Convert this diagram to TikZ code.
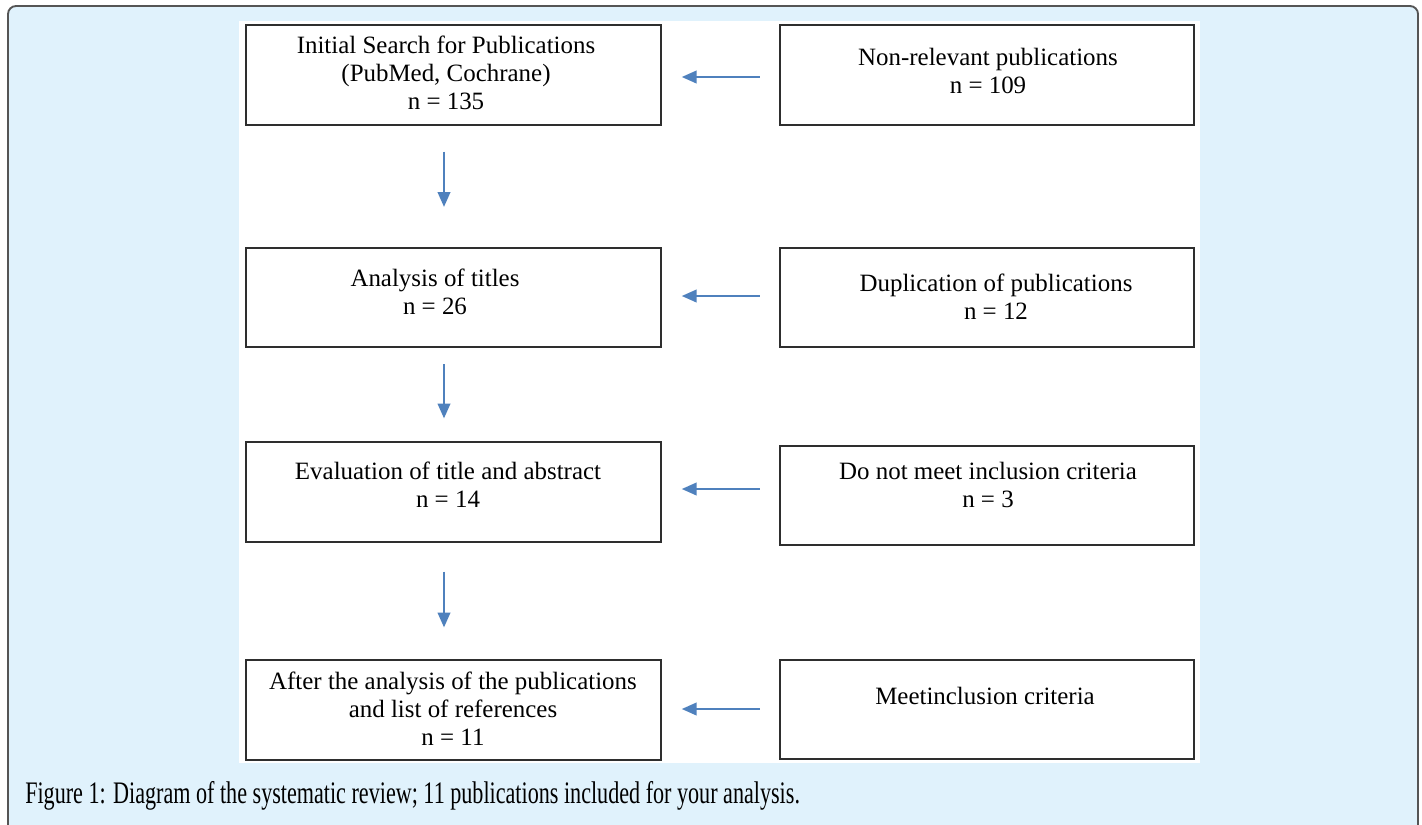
\documentclass[tikz,border=0pt]{standalone}
\usepackage{fontspec}
\setmainfont{Liberation Serif}
\newfontfamily\capfont{Liberation Serif}
\usetikzlibrary{arrows.meta,calc}
\definecolor{panel}{HTML}{E0F2FC}
\definecolor{arrowblue}{HTML}{4F81BD}
\definecolor{frameedge}{HTML}{555555}
\definecolor{boxedge}{HTML}{2E2E2E}
\tikzset{
  flowbox/.style={draw=boxedge, line width=1.4pt, fill=white, inner sep=0pt, outer sep=0pt,
    minimum width=311pt, minimum height=74.5pt},
  boxtext/.style={align=center, inner sep=0pt, font=\fontsize{18.7pt}{21pt}\selectfont, text=black},
  flowarrow/.style={draw=arrowblue, line width=1.1pt, -{Triangle[length=11pt,width=9.5pt]}},
}
\begin{document}
\begin{tikzpicture}[x=0.75pt,y=-0.75pt]
\useasboundingbox (0,0) rectangle (1422,825);
\begin{scope}
  \clip (0,0) rectangle (1422,825);
  \draw[rounded corners=6pt, fill=panel, draw=frameedge, line width=1.4pt] (8,6) rectangle (1418,845);
\end{scope}
\fill[white] (239,21) rectangle (1200,763);

% left column
\node[flowbox] (l1) at (453.5,75) {};
\node[flowbox] (l2) at (453.5,297.5) {};
\node[flowbox] (l3) at (453.5,492) {};
\node[flowbox] (l4) at (453.5,710) {};
% right column
\node[flowbox] (r1) at (987,75) {};
\node[flowbox] (r2) at (987,297.5) {};
\node[flowbox] (r3) at (987,495.5) {};
\node[flowbox] (r4) at (987,709.5) {};

% texts
\node[boxtext] (t1) at (446,73) {Initial Search for Publications\\(PubMed, Cochrane)\\n = 135};
\node[boxtext] (t2) at (435,292) {Analysis of titles\\n = 26};
\node[boxtext] (t3) at (448,485) {Evaluation of title and abstract\\n = 14};
\node[boxtext] (t4) at (453,709) {After the analysis of the publications\\and list of references\\n = 11};
\node[boxtext] (u1) at (988,71) {Non-relevant publications\\n = 109};
\node[boxtext] (u2) at (996,297) {Duplication of publications\\n = 12};
\node[boxtext] (u3) at (988,485) {Do not meet inclusion criteria\\n = 3};
\node[boxtext] (u4) at (985,696) {Meetinclusion criteria};

% horizontal arrows
\draw[flowarrow, shorten <=15pt, shorten >=15.75pt] (r1.west |- 0,77) -- (l1.east |- 0,77);
\draw[flowarrow, shorten <=15pt, shorten >=15.75pt] (r2.west |- 0,296) -- (l2.east |- 0,296);
\draw[flowarrow, shorten <=15pt, shorten >=15.75pt] (r3.west |- 0,489) -- (l3.east |- 0,489);
\draw[flowarrow, shorten <=15pt, shorten >=15.75pt] (r4.west |- 0,709) -- (l4.east |- 0,709);

% vertical arrows
\draw[flowarrow, shorten <=20.25pt, shorten >=30.75pt] (l1.south -| 444,0) -- (l2.north -| 444,0);
\draw[flowarrow, shorten <=12.75pt, shorten >=18pt] (l2.south -| 444,0) -- (l3.north -| 444,0);
\draw[flowarrow, shorten <=22.5pt, shorten >=24.75pt] (l3.south -| 444,0) -- (l4.north -| 444,0);

% caption
\node[anchor=base west, inner sep=0pt, text=black] (cap) at (25,803)
  {\resizebox{581pt}{\height}{\capfont\fontsize{23.5pt}{26pt}\selectfont Figure 1: Diagram of the systematic review; 11 publications included for your analysis.}};
\end{tikzpicture}
\end{document}
